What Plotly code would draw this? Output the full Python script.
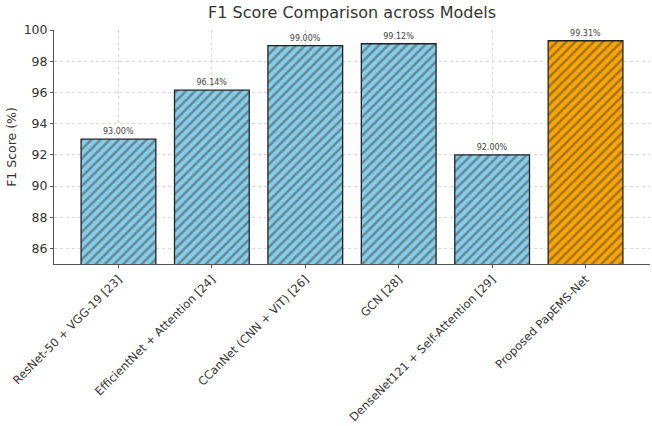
import plotly.graph_objects as go

models = [
    "ResNet-50 + VGG-19 [23]",
    "EfficientNet + Attention [24]",
    "CCanNet (CNN + ViT) [26]",
    "GCN [28]",
    "DenseNet121 + Self-Attention [29]",
    "Proposed PapEMS-Net",
]
f1_scores = [93.00, 96.14, 99.00, 99.12, 92.00, 99.31]
bar_colors = ["#87CEEB"] * 5 + ["#FFA500"]
y_ticks = [86, 88, 90, 92, 94, 96, 98, 100]

FONT = "DejaVu Sans, sans-serif"

fig = go.Figure()
fig.add_trace(go.Bar(
    x=models,
    y=f1_scores,
    base=0,
    width=0.8,
    marker=dict(
        color=bar_colors,
        line=dict(color="#222222", width=1.3),
        pattern=dict(shape="/", fgcolor="#000000", size=6.5, solidity=0.38),
    ),
    text=[f"{v:.2f}%" for v in f1_scores],
    textposition="outside",
    cliponaxis=False,
    textfont=dict(family=FONT, size=8, color="#444444"),
    hoverinfo="x+y",
))

fig.update_layout(
    width=652,
    height=426,
    margin=dict(l=54, r=2, t=30, b=158),
    paper_bgcolor="white",
    plot_bgcolor="white",
    bargap=0.2,
    showlegend=False,
    font=dict(family=FONT, color="#333333"),
    title=dict(
        text="F1 Score Comparison across Models",
        x=0.54, xanchor="center", y=0.985, yanchor="top",
        font=dict(family=FONT, size=16, color="#333333"),
    ),
    xaxis=dict(
        type="category",
        range=[-0.69, 5.69],
        tickangle=-45,
        tickfont=dict(family=FONT, size=11.5, color="#333333"),
        showgrid=True, gridcolor="#d9d9d9", griddash="dot", gridwidth=1,
        showline=True, linecolor="#555555", linewidth=1,
        ticks="outside", ticklen=3, tickcolor="#555555",
    ),
    yaxis=dict(
        range=[85, 100],
        tickvals=y_ticks,
        tickfont=dict(family=FONT, size=12.5, color="#333333"),
        title=dict(text="F1 Score (%)", font=dict(family=FONT, size=12.5, color="#333333"), standoff=4),
        showgrid=True, gridcolor="#d9d9d9", griddash="dot", gridwidth=1,
        showline=True, linecolor="#555555", linewidth=1,
        ticks="outside", ticklen=3, tickcolor="#555555",
        zeroline=False,
    ),
)

fig.write_html("out.html")
